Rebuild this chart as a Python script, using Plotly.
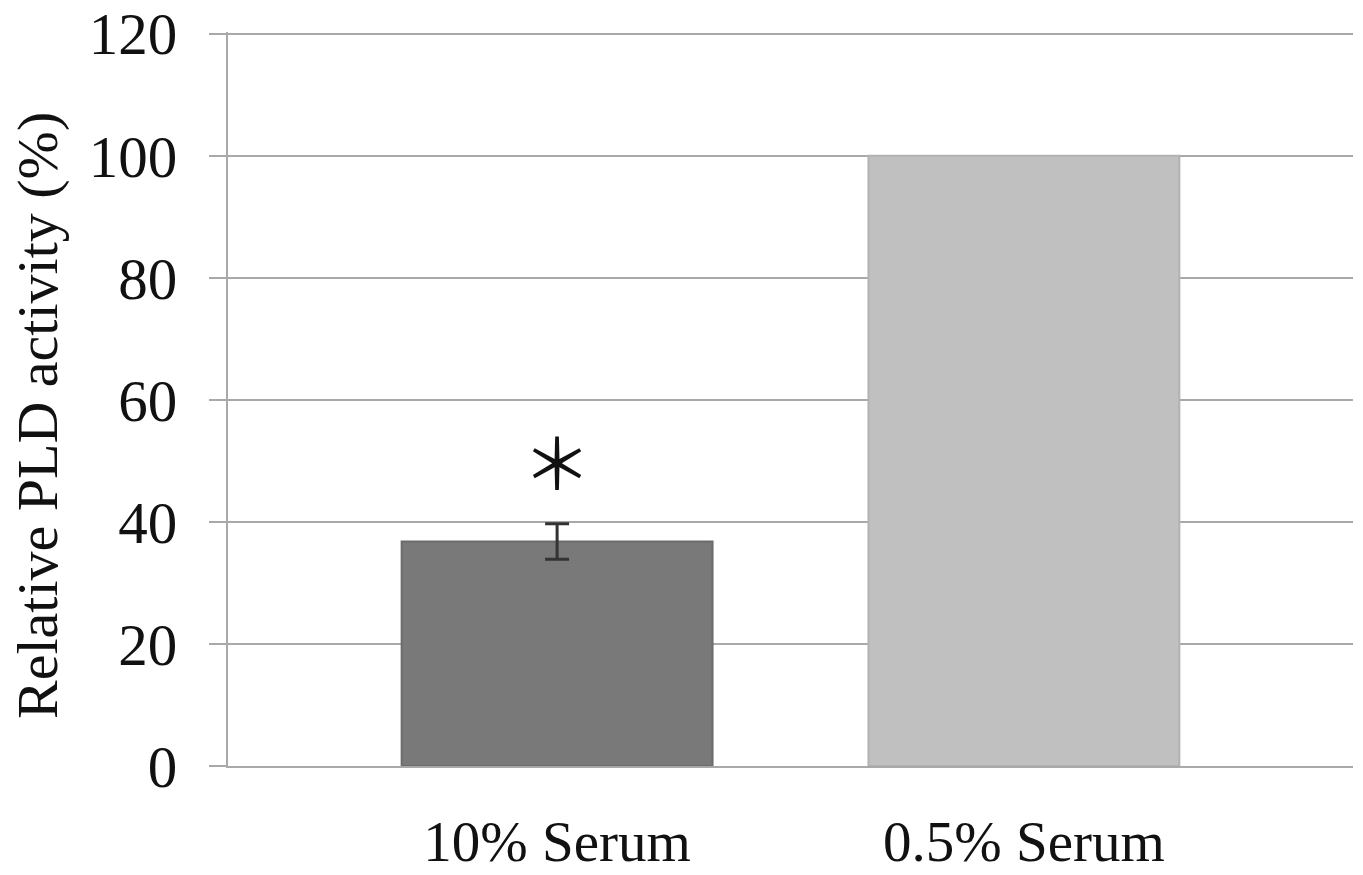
import plotly.graph_objects as go

categories = ["10% Serum", "0.5% Serum"]
values = [36.8, 100]
errors = [2.9, None]
bar_colors = ["#797979", "#c0c0c0"]
edge_colors = ["#6c6c6c", "#b2b2b2"]
y_ticks = [0, 20, 40, 60, 80, 100, 120]
y_title = "Relative PLD activity (%)"
sig_mark = "＊"
sig_y = 49

FONT = "Liberation Serif"
GRID = "#a9a9a9"

fig = go.Figure()
for i in range(len(categories)):
    err = None
    if errors[i] is not None:
        err = dict(type="data", array=[errors[i]], visible=True,
                   color="#333333", thickness=3, width=12)
    fig.add_trace(go.Bar(
        x=[i],
        y=[values[i]],
        width=0.666,
        marker=dict(color=bar_colors[i], line=dict(color=edge_colors[i], width=2)),
        error_y=err,
        showlegend=False,
        name=categories[i],
    ))

fig.add_annotation(
    x=0, y=sig_y, xref="x", yref="y", text=sig_mark, showarrow=False,
    font=dict(family="Noto Sans CJK JP", size=70, color="#111111"),
    xanchor="center", yanchor="middle", yshift=8,
)

fig.add_annotation(
    x=(38 - 228) / 1125, y=(766 - 416) / 734, xref="paper", yref="paper",
    text=y_title, showarrow=False, textangle=-90,
    xanchor="center", yanchor="middle",
    font=dict(family=FONT, size=58, color="#111111"),
)

fig.update_layout(
    width=1363, height=875,
    margin=dict(l=228, r=10, t=32, b=109),
    paper_bgcolor="white", plot_bgcolor="white",
    font=dict(family=FONT, size=57, color="#111111"),
    barmode="overlay",
)

fig.update_xaxes(
    range=[-0.705, 1.705], automargin=False,
    tickmode="array", tickvals=list(range(len(categories))), ticktext=categories,
    showgrid=False, zeroline=False,
    showline=True, linecolor=GRID, linewidth=2,
    ticks="", ticklabelstandoff=25,
    tickfont=dict(family=FONT, size=57, color="#111111"),
)

fig.update_yaxes(
    range=[0, 120.3], automargin=False, tickmode="array", tickvals=y_ticks,
    showgrid=True, gridcolor=GRID, gridwidth=2,
    zeroline=False, showline=True, linecolor=GRID, linewidth=2,
    ticks="outside", ticklen=17, tickcolor=GRID, tickwidth=2,
    ticklabelstandoff=20,
    tickfont=dict(family=FONT, size=59, color="#111111"),
)

fig.write_html("out.html")
